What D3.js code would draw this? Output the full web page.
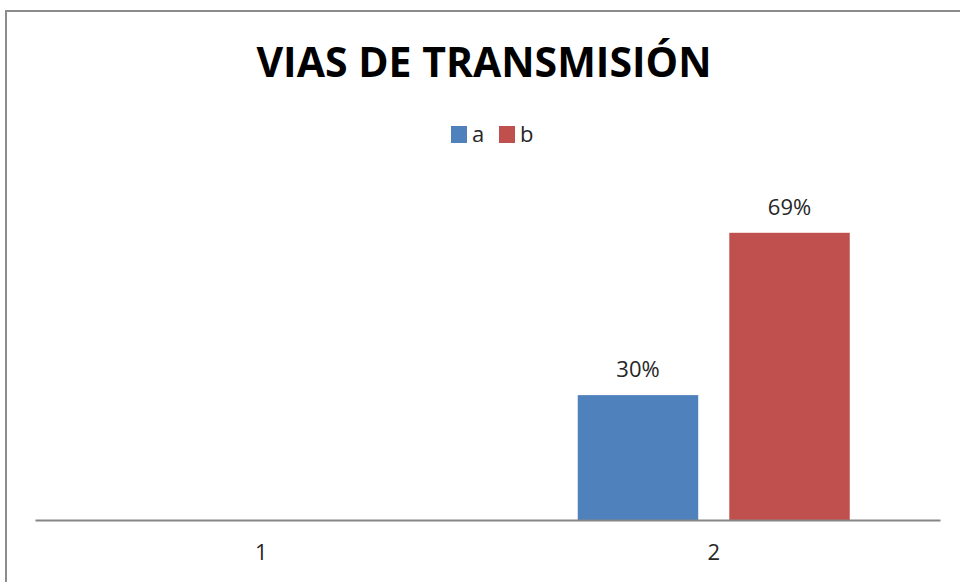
<!DOCTYPE html>
<html>
<head>
<meta charset="utf-8">
<script src="https://cdn.jsdelivr.net/npm/d3@7"></script>
<style>
  body { margin: 0; background: #fff; }
  text { font-family: "Open Sans", "Noto Sans", sans-serif; }
</style>
</head>
<body>
<div id="chart"></div>
<script>
// chart data
var categories = ['1', '2']
var seriesNames = ['a', 'b']
var seriesA = [null, 0.30]
var seriesB = [null, 0.69]
var colors = ['#4F81BD', '#C0504D']
var titleText = 'VIAS DE TRANSMISIÓN'

var w = 960
var h = 582
var svg = d3.select('#chart').append('svg')
    .attr('width', w)
    .attr('height', h)

// outer frame (only top and left edges show)
svg.append('rect')
    .attr('x', 6)
    .attr('y', 11)
    .attr('width', w + 20)
    .attr('height', h + 20)
    .attr('fill', 'white')
    .attr('stroke', '#8c8c8c')
    .attr('stroke-width', 2)

svg.append('text')
    .attr('x', 484)
    .attr('y', 77)
    .attr('text-anchor', 'middle')
    .attr('font-size', 41)
    .attr('font-weight', 'bold')
    .attr('fill', '#000')
    .text(titleText)

var plot = {left: 35, right: 940, top: 187, bottom: 520}

var x0 = d3.scaleBand()
    .domain(categories)
    .range([plot.left, plot.right])

var clusterW = 272
var x1 = d3.scaleBand()
    .domain(seriesNames)
    .range([(x0.bandwidth() - clusterW) / 2, (x0.bandwidth() + clusterW) / 2])
    .paddingInner(0.205)

var y = d3.scaleLinear()
    .domain([0, 0.8])
    .range([plot.bottom, plot.top])

var rows = categories.map(function(c, i){
  return {cat: c, values: [
    {key: 'a', v: seriesA[i], color: colors[0]},
    {key: 'b', v: seriesB[i], color: colors[1]}
  ]}
})

var groups = svg.selectAll('g.cat')
    .data(rows)
    .enter()
    .append('g')
    .attr('class', 'cat')
    .attr('transform', function(d){ return 'translate(' + x0(d.cat) + ',0)' })

var bars = groups.selectAll('rect')
    .data(function(d){ return d.values.filter(function(e){ return e.v != null }) })
    .enter()

bars.append('rect')
    .attr('x', function(d){ return x1(d.key) })
    .attr('width', x1.bandwidth())
    .attr('y', function(d){ return y(d.v) })
    .attr('height', function(d){ return y(0) - y(d.v) })
    .attr('fill', function(d){ return d.color })

bars.append('text')
    .attr('x', function(d){ return x1(d.key) + x1.bandwidth() / 2 })
    .attr('y', function(d){ return y(d.v) - 18 })
    .attr('text-anchor', 'middle')
    .attr('font-size', 22)
    .attr('fill', '#262626')
    .text(function(d){ return Math.round(d.v * 100) + '%' })

// category axis
var axis = svg.append('g')
    .attr('transform', 'translate(0,' + plot.bottom + ')')
    .call(d3.axisBottom(x0).tickSize(0).tickPadding(24))
axis.select('.domain').attr('stroke', '#868686').attr('stroke-width', 2)
axis.selectAll('text')
    .attr('font-size', 22)
    .attr('font-family', '"Open Sans", "Noto Sans", sans-serif')
    .attr('fill', '#262626')

// legend
var legend = svg.append('g')
    .attr('transform', 'translate(451,126)')
var li = legend.selectAll('g')
    .data(seriesNames)
    .enter()
    .append('g')
    .attr('transform', function(d, i){ return 'translate(' + (i * 48) + ',0)' })
li.append('rect')
    .attr('width', 16)
    .attr('height', 17)
    .attr('fill', function(d, i){ return colors[i] })
li.append('text')
    .attr('x', 21)
    .attr('y', 16)
    .attr('font-size', 22)
    .attr('fill', '#262626')
    .text(function(d){ return d })
</script>
</body>
</html>
